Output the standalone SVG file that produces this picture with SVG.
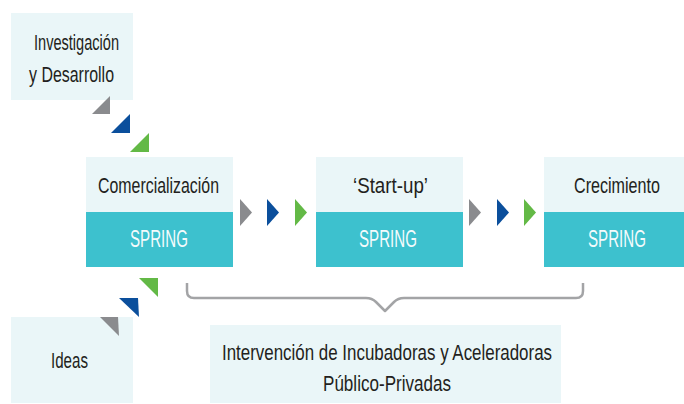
<svg xmlns="http://www.w3.org/2000/svg" width="684" height="404" viewBox="0 0 684 404">
<style>
.lt{fill:#eaf6f8}
.tl{fill:#3dc1ce}
.tx{font-family:"Liberation Sans",Arial,sans-serif;font-size:21.5px;fill:#231f20}
.sp{font-family:"Liberation Sans",Arial,sans-serif;font-size:24px;fill:#f4fbfc}
.g{fill:#8a8b8e}
.b{fill:#0b4f9c}
.gr{fill:#63b946}
.br{fill:none;stroke:#a3a4a6;stroke-width:2.5;stroke-linejoin:round}
</style>
<rect width="684" height="404" fill="#ffffff"/>
<g id="investigacion">
<rect class="lt" x="11" y="13" width="122" height="87"/>
<text class="tx" x="34" y="50" textLength="85" lengthAdjust="spacingAndGlyphs">Investigación</text>
<text class="tx" x="29" y="82" textLength="85" lengthAdjust="spacingAndGlyphs">y Desarrollo</text>
</g>
<g id="ideas">
<rect class="lt" x="11" y="317" width="122" height="86"/>
<text class="tx" x="51" y="368" textLength="37" lengthAdjust="spacingAndGlyphs">Ideas</text>
</g>
<g id="comercializacion">
<rect class="lt" x="86" y="157" width="147" height="55"/>
<rect class="tl" x="86" y="212" width="147" height="55"/>
<text class="tx" x="98" y="193" textLength="121" lengthAdjust="spacingAndGlyphs">Comercialización</text>
<text class="sp" x="130" y="247" textLength="58" lengthAdjust="spacingAndGlyphs">SPRING</text>
</g>
<g id="startup">
<rect class="lt" x="316" y="157" width="147" height="55"/>
<rect class="tl" x="316" y="212" width="147" height="55"/>
<text class="tx" x="353" y="193" textLength="75" lengthAdjust="spacingAndGlyphs">‘Start-up’</text>
<text class="sp" x="359" y="247" textLength="58" lengthAdjust="spacingAndGlyphs">SPRING</text>
</g>
<g id="crecimiento">
<rect class="lt" x="544" y="157" width="140" height="55"/>
<rect class="tl" x="544" y="212" width="140" height="55"/>
<text class="tx" x="574" y="193" textLength="86" lengthAdjust="spacingAndGlyphs">Crecimiento</text>
<text class="sp" x="588" y="247" textLength="58" lengthAdjust="spacingAndGlyphs">SPRING</text>
</g>
<g id="intervencion">
<rect class="lt" x="210" y="325" width="351" height="78"/>
<text class="tx" x="222" y="360" textLength="330" lengthAdjust="spacingAndGlyphs">Intervención de Incubadoras y Aceleradoras</text>
<text class="tx" x="323" y="391" textLength="128" lengthAdjust="spacingAndGlyphs">Público-Privadas</text>
</g>
<g id="connectors">
<polygon class="g" points="92,114 110,96 110,114"/>
<polygon class="b" points="111,133 130,114 130,133"/>
<polygon class="gr" points="130,152 149,133 149,152"/>
<polygon class="gr" points="139,278 158,278 158,297"/>
<polygon class="b" points="119,298 138,298 139,317"/>
<polygon class="g" points="100,317 118,317 119,336"/>
<polygon class="g" points="240,199 252,212.5 240,226"/>
<polygon class="b" points="267,199 279,212.5 267,226"/>
<polygon class="gr" points="295,199 307,212.5 295,226"/>
<polygon class="g" points="469,199 481,212.5 469,226"/>
<polygon class="b" points="497,199 509,212.5 497,226"/>
<polygon class="gr" points="524,199 536,212.5 524,226"/>
<path class="br" d="M187,283 L187,291 Q187,298 194,298 L366,298 Q372,298 376,302 L385,311 L394,302 Q398,298 404,298 L576,298 Q583,298 583,291 L583,283"/>
</g>
</svg>
